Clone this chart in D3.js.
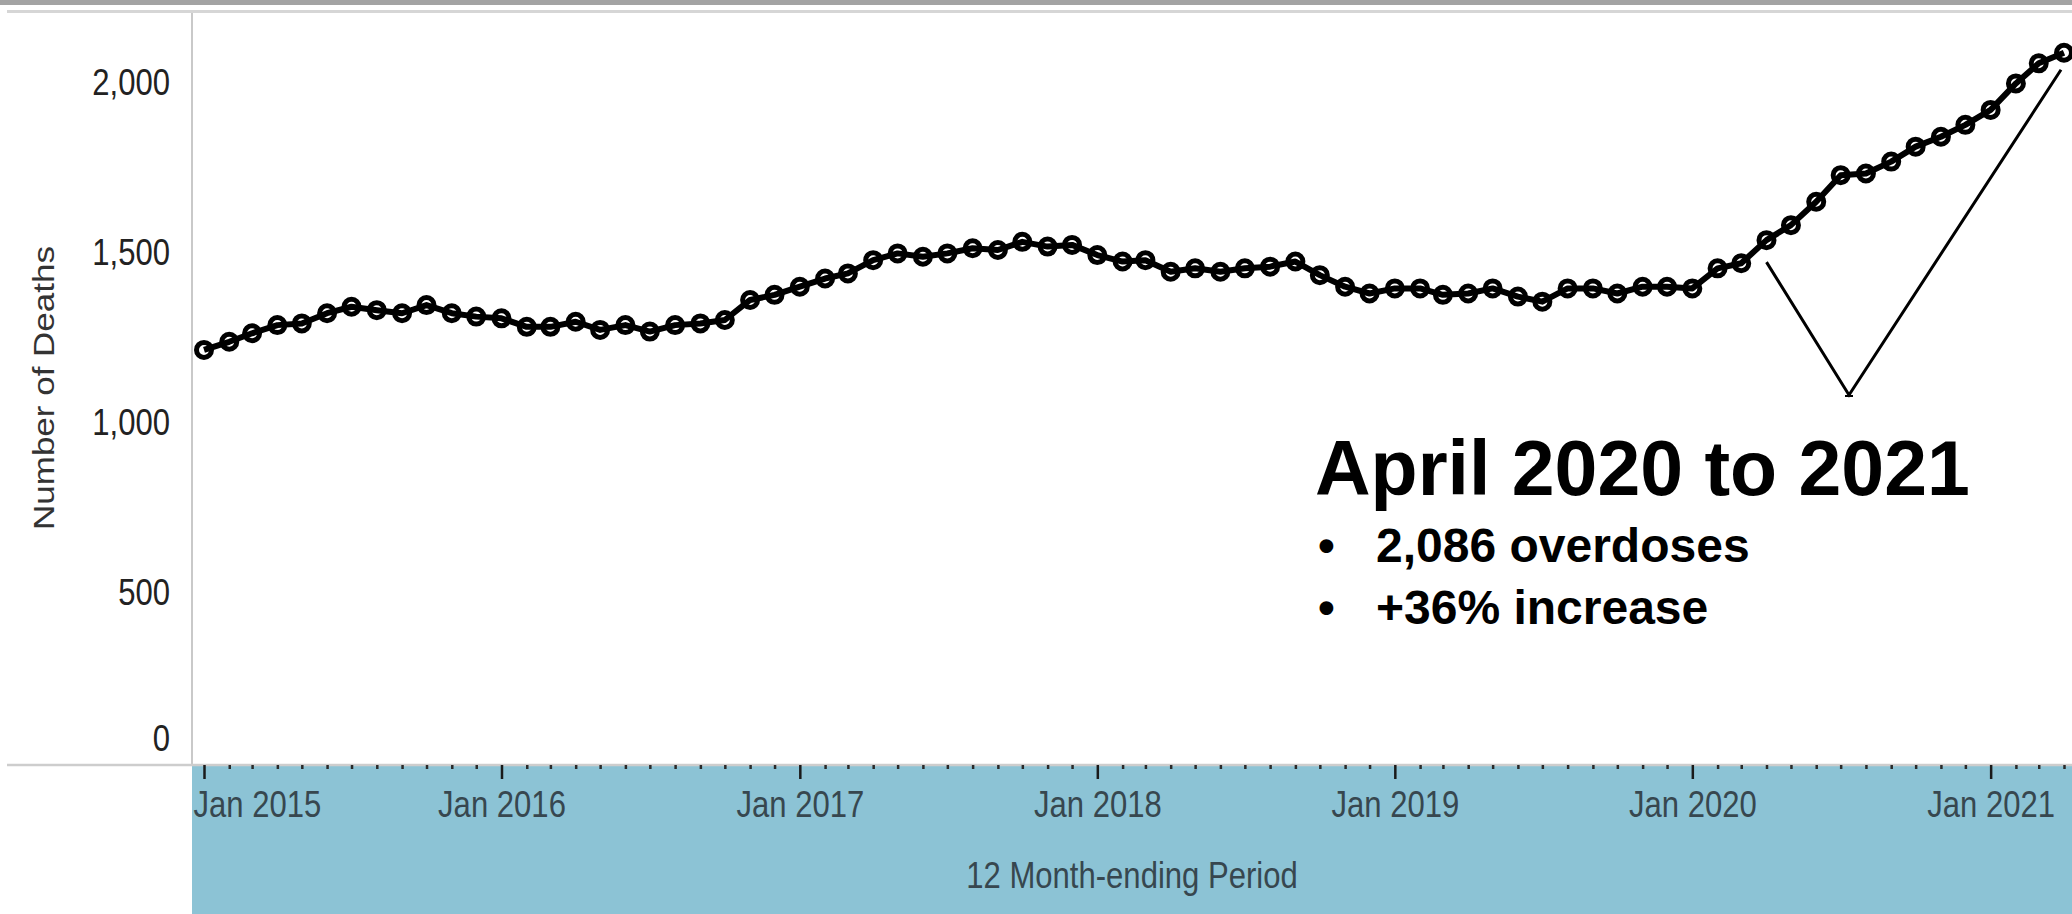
<!DOCTYPE html>
<html><head><meta charset="utf-8">
<script src="https://cdn.jsdelivr.net/npm/d3@7"></script>
<style>html,body{margin:0;padding:0;background:#fff;} svg{display:block;}</style>
</head><body>
<svg id="chart" width="2072" height="914"></svg>
<script>
// ---- data ----
const startMonth = "2015-01";
const deaths = [
  1212, 1236, 1261, 1285, 1290, 1320, 1339, 1329, 1320, 1344, 1320, 1310,
  1305, 1280, 1280, 1295, 1271, 1285, 1266, 1285, 1290, 1300, 1359, 1374,
  1398, 1422, 1437, 1476, 1496, 1486, 1496, 1511, 1506, 1530, 1516, 1521,
  1491, 1472, 1476, 1442, 1452, 1442, 1452, 1457, 1472, 1432, 1398, 1378,
  1393, 1393, 1374, 1378, 1393, 1369, 1354, 1393, 1393, 1378, 1398, 1398,
  1393, 1452, 1467, 1535, 1579, 1648, 1726, 1731, 1766, 1810, 1839, 1874,
  1918, 1996, 2055, 2086
];
const yTickValues = [0, 500, 1000, 1500, 2000];
const yearTickMonths = ["2015-01","2016-01","2017-01","2018-01","2019-01","2020-01","2021-01"];
const yearTickLabels = ["Jan 2015","Jan 2016","Jan 2017","Jan 2018","Jan 2019","Jan 2020","Jan 2021"];
const yTitle = "Number of Deaths";
const xTitle = "12 Month-ending Period";
const annoTitle = "April 2020 to 2021";
const annoBullets = ["2,086 overdoses", "+36% increase"];
const annoFromMonth = "2020-04";
const annoToMonth = "2021-04";

// ---- layout ----
const W = 2072, H = 914;
const plotLeft = 192, plotTop = 12, base = 765;
const SQ = 0.84; // horizontal squeeze of the chart text
const FONT = "'Liberation Sans', Arial, sans-serif";

const parse = d3.utcParse("%Y-%m");
const months = deaths.map((d, i) => d3.utcMonth.offset(parse(startMonth), i));
const data = months.map((m, i) => ({date: m, value: deaths[i]}));

const x = d3.scaleUtc().domain([months[0], months[months.length - 1]]).range([204, 2064]);
const y = d3.scaleLinear().domain([0, 2206]).range([762, plotTop]);

const svg = d3.select("#chart").attr("font-family", FONT);

// frame
svg.append("rect").attr("x", 0).attr("y", 0).attr("width", W).attr("height", 5).attr("fill", "#a3a3a3");
svg.append("line").attr("x1", 7).attr("x2", W).attr("y1", 11.5).attr("y2", 11.5)
  .attr("stroke", "#d6d6d6").attr("stroke-width", 3);
svg.append("rect").attr("x", plotLeft).attr("y", base).attr("width", W - plotLeft).attr("height", H - base)
  .attr("fill", "#8cc3d5");
svg.append("line").attr("x1", plotLeft).attr("x2", plotLeft).attr("y1", plotTop + 1).attr("y2", base)
  .attr("stroke", "#c9c9c9").attr("stroke-width", 2);
svg.append("line").attr("x1", 7).attr("x2", W).attr("y1", base).attr("y2", base)
  .attr("stroke", "#cdcdcd").attr("stroke-width", 2.5);

// y axis
const yAxis = svg.append("g").attr("transform", `translate(${plotLeft},0)`)
  .call(d3.axisLeft(y).tickValues(yTickValues).tickSize(0).tickFormat(d3.format(",")));
yAxis.select(".domain").remove();
yAxis.selectAll(".tick text")
  .attr("font-size", 37).attr("fill", "#222").attr("font-family", FONT)
  .attr("x", -22 / SQ).attr("dy", "0.35em")
  .attr("transform", d => (d === 0 ? "translate(0,-24) " : "") + `scale(${SQ},1)`);

svg.append("text").text(yTitle)
  .attr("transform", `translate(44,388) scale(${SQ},1) rotate(-90)`)
  .attr("text-anchor", "middle").attr("dy", "0.35em")
  .attr("font-size", 35).attr("fill", "#333");

// x axis: minor monthly ticks
const allMonths = d3.utcMonth.range(months[0], d3.utcMonth.offset(months[months.length - 1], 1));
const minorAxis = svg.append("g").attr("transform", `translate(0,${base})`)
  .call(d3.axisBottom(x).tickValues(allMonths.filter(m => m.getUTCMonth() !== 0)).tickSize(4).tickFormat(""));
minorAxis.select(".domain").remove();
minorAxis.selectAll(".tick line").attr("stroke", "#2a2a2a").attr("stroke-width", 2.5);

const yearDates = yearTickMonths.map(parse);
const majorAxis = svg.append("g").attr("transform", `translate(0,${base})`)
  .call(d3.axisBottom(x).tickValues(yearDates).tickSize(14).tickFormat((d, i) => yearTickLabels[i]));
majorAxis.select(".domain").remove();
majorAxis.selectAll(".tick line").attr("stroke", "#1a1a1a").attr("stroke-width", 2.5);
majorAxis.selectAll(".tick text")
  .attr("font-size", 37).attr("fill", "#37474f").attr("font-family", FONT)
  .attr("y", 52).attr("dy", 0)
  .attr("transform", `scale(${SQ},1)`)
  .each(function(d) {
    const w = this.getComputedTextLength() * SQ;
    const px = x(d);
    if (px - w / 2 < plotLeft + 1) {
      d3.select(this).attr("text-anchor", "start").attr("x", (plotLeft + 1 - px) / SQ);
    }
  });

svg.append("text").text(xTitle)
  .attr("transform", `translate(1132,888) scale(${SQ},1)`)
  .attr("text-anchor", "middle").attr("font-size", 37).attr("fill", "#37474f");

// series
const plot = svg.append("g");
plot.append("path").datum(data)
  .attr("d", d3.line().x(d => x(d.date)).y(d => y(d.value)))
  .attr("fill", "none").attr("stroke", "#000").attr("stroke-width", 6)
  .attr("stroke-linejoin", "round");
plot.selectAll("circle").data(data).join("circle")
  .attr("cx", d => x(d.date)).attr("cy", d => y(d.value)).attr("r", 7.5)
  .attr("fill", "none").attr("stroke", "#000").attr("stroke-width", 5);

// annotation
const iFrom = months.findIndex(m => +m === +parse(annoFromMonth));
const iTo = months.findIndex(m => +m === +parse(annoToMonth));
const pA = [x(months[iFrom]), y(deaths[iFrom]) + 22];
const pC = [x(months[iTo]) - 3, y(deaths[iTo]) + 17];
const pB = [1849, 395];
svg.append("path").attr("d", d3.line()([pA, pB, pC]))
  .attr("fill", "none").attr("stroke", "#000").attr("stroke-width", 3);
svg.append("line").attr("x1", pB[0] - 4).attr("x2", pB[0] + 4).attr("y1", pB[1] + 1).attr("y2", pB[1] + 1)
  .attr("stroke", "#000").attr("stroke-width", 2);

svg.append("text").text(annoTitle)
  .attr("x", 1315).attr("y", 495).attr("font-size", 77).attr("font-weight", "bold").attr("fill", "#000");
annoBullets.forEach((t, i) => {
  const by = 562 + i * 62;
  svg.append("text").text("\u2022").attr("x", 1318).attr("y", by)
    .attr("font-size", 48).attr("font-weight", "bold").attr("fill", "#000");
  svg.append("text").text(t).attr("x", 1376).attr("y", by)
    .attr("font-size", 48).attr("font-weight", "bold").attr("fill", "#000");
});
</script>
</body></html>
